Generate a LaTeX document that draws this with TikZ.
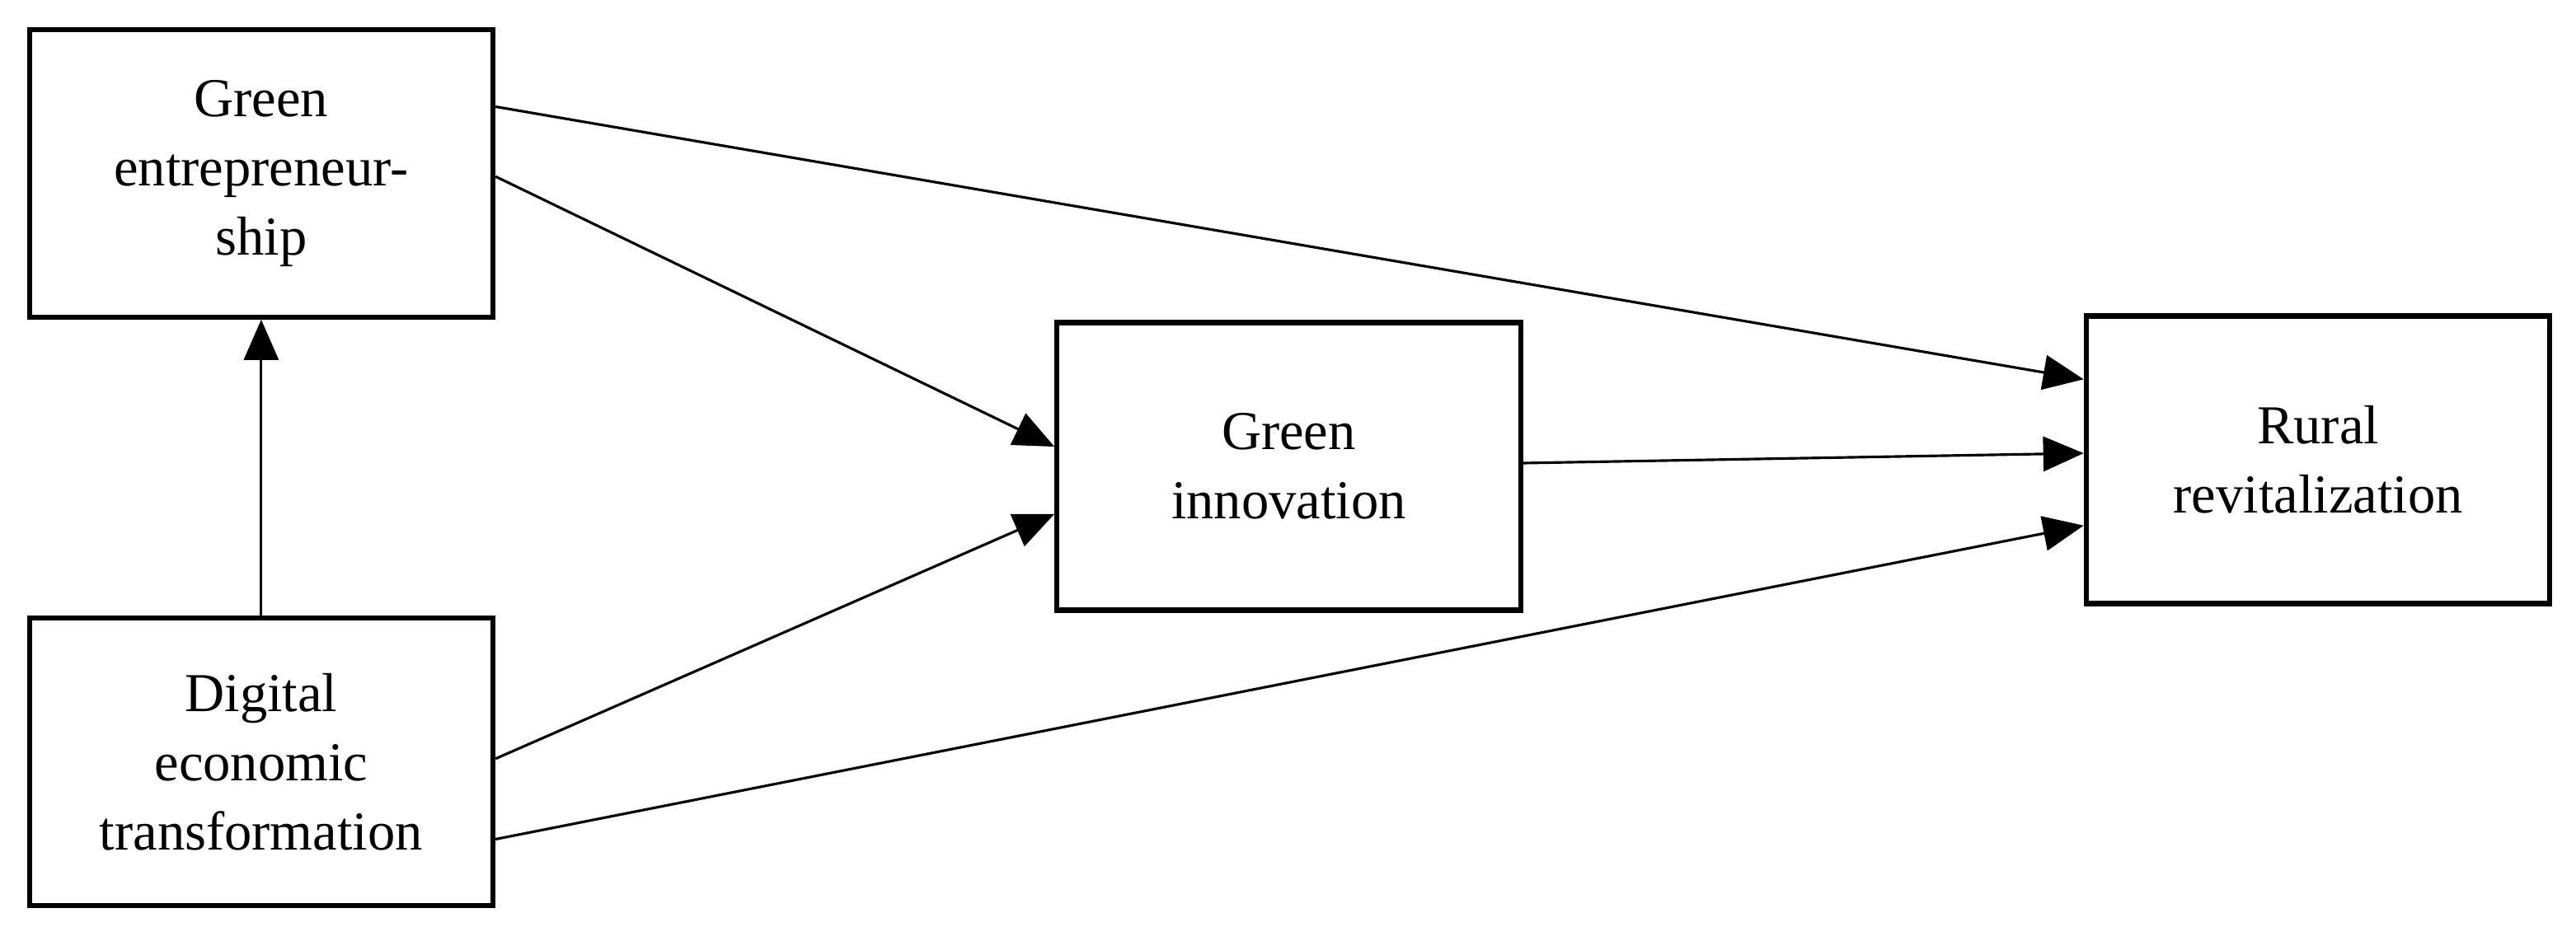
\documentclass[tikz,border=0pt]{standalone}
\usepackage{fontspec}
\setmainfont{Liberation Serif}
\usetikzlibrary{arrows.meta}
\begin{document}
\begin{tikzpicture}[x=0.01cm,y=0.01cm,
  box/.style={draw,line width=0.9pt,minimum width=2.82cm,minimum height=1.75cm,align=center,font=\fontsize{9.5}{12}\selectfont,inner sep=0pt},
  arr/.style={-{Triangle[length=7pt,width=6pt]},line width=0.45pt}]
\useasboundingbox (0,0) rectangle (1568,564);
\node[box] (ge) at (159,458.5) {Green\\entrepreneur-\\ship};
\node[box] (det) at (159,100) {Digital\\economic\\transformation};
\node[box] (gi) at (784.5,280) {Green\\innovation};
\node[box] (rr) at (1411,284) {Rural\\revitalization};
\draw[arr] (det.north) -- (ge.south);
\draw[arr] ([yshift=0.405cm]ge.east) -- ([yshift=0.49cm]rr.west);
\draw[arr] ([yshift=-0.02cm]ge.east) -- ([yshift=0.12cm]gi.west);
\draw[arr] ([yshift=0.02cm]det.east) -- ([yshift=-0.29cm]gi.west);
\draw[arr] ([yshift=-0.47cm]det.east) -- ([yshift=-0.40cm]rr.west);
\draw[arr] ([yshift=0.02cm]gi.east) -- ([yshift=0.04cm]rr.west);
\end{tikzpicture}
\end{document}
